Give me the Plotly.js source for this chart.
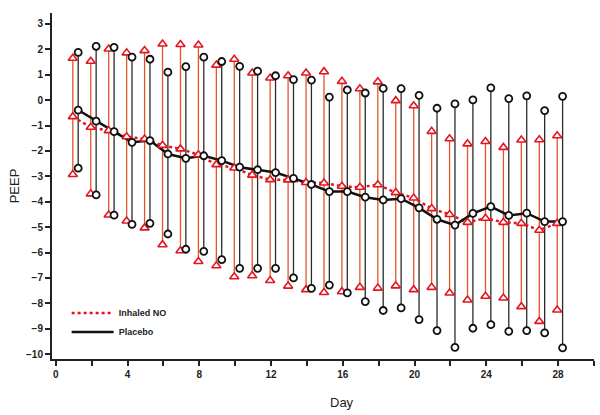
<!DOCTYPE html>
<html>
<head>
<meta charset="utf-8">
<script src="https://cdn.plot.ly/plotly-3.0.1.min.js"></script>
<style>
  html, body { margin: 0; padding: 0; background: #fff; }
  #chart { width: 600px; height: 415px; }
</style>
</head>
<body>
<div id="chart"></div>
<script>
var days = [1, 2, 3, 4, 5, 6, 7, 8, 9, 10, 11, 12, 13, 14, 15, 16, 17, 18, 19, 20, 21, 22, 23, 24, 25, 26, 27, 28];

// Inhaled NO: mean, upper and lower end of the bar
var noMean = [-0.65, -1.07, -1.20, -1.44, -1.53, -1.78, -1.92, -2.15, -2.54, -2.67, -2.95, -3.13, -3.14, -3.24,
              -3.26, -3.39, -3.43, -3.33, -3.64, -3.85, -4.27, -4.50, -4.81, -4.65, -4.81, -4.85, -5.12, -4.85];
var noHigh = [1.65, 1.53, 2.01, 1.86, 1.95, 2.21, 2.19, 2.17, 1.38, 1.61, 1.07, 0.87, 0.96, 1.07,
              1.12, 0.74, 0.45, 0.72, -0.02, -0.22, -1.23, -1.52, -1.72, -1.63, -1.86, -1.57, -1.56, -1.40];
var noLow = [-2.93, -3.69, -4.52, -4.76, -5.03, -5.69, -5.93, -6.35, -6.52, -6.95, -6.91, -7.10, -7.32, -7.46,
             -7.57, -7.54, -7.37, -7.40, -7.31, -7.46, -7.37, -7.59, -7.87, -7.72, -7.79, -8.13, -8.71, -8.26];

// Placebo
var plMean = [-0.39, -0.83, -1.24, -1.66, -1.59, -2.12, -2.29, -2.19, -2.38, -2.64, -2.74, -2.85, -3.08, -3.32,
              -3.60, -3.60, -3.82, -3.93, -3.88, -4.24, -4.69, -4.92, -4.46, -4.19, -4.54, -4.45, -4.78, -4.78];
var plHigh = [1.88, 2.12, 2.08, 1.69, 1.61, 1.10, 1.32, 1.69, 1.52, 1.33, 1.14, 0.96, 0.81, 0.79,
              0.12, 0.40, 0.28, 0.46, 0.45, 0.19, -0.32, -0.15, 0.01, 0.48, 0.06, 0.17, -0.41, 0.15];
var plLow = [-2.68, -3.73, -4.53, -4.89, -4.85, -5.27, -5.87, -5.95, -6.28, -6.62, -6.62, -6.62, -7.00, -7.41,
             -7.28, -7.59, -7.93, -8.28, -8.18, -8.64, -9.07, -9.73, -8.98, -8.84, -9.10, -9.07, -9.16, -9.75];

var xTicks = [0, 2, 4, 6, 8, 10, 12, 14, 16, 18, 20, 22, 24, 26, 28, 30];
var xTickLabels = ['0', '', '4', '', '8', '', '12', '', '16', '', '20', '', '24', '', '28', ''];

var red = '#e3161f';
var redBar = '#e8532a';
var black = '#111111';
var font = 'Liberation Sans, Arial, sans-serif';

// the two groups sit a bit apart on each day
var noX = days.map(function (d) { return d - 0.05; });
var plX = days.map(function (d) { return d + 0.25; });

function barPath(xs, lo, hi) {
  var bx = [], by = [];
  for (var i = 0; i < xs.length; i++) {
    bx.push(xs[i], xs[i], null);
    by.push(lo[i], hi[i], null);
  }
  return { x: bx, y: by };
}

function ends(xs, mean, lo, hi) {
  return { x: xs.concat(xs, xs), y: mean.concat(lo, hi) };
}

var noBars = barPath(noX, noLow, noHigh);
var plBars = barPath(plX, plLow, plHigh);
var noPts = ends(noX, noMean, noLow, noHigh);
var plPts = ends(plX, plMean, plLow, plHigh);

var data = [
  { x: noBars.x, y: noBars.y, type: 'scatter', mode: 'lines', showlegend: false, hoverinfo: 'skip',
    line: { color: redBar, width: 1.3 } },
  { x: plBars.x, y: plBars.y, type: 'scatter', mode: 'lines', showlegend: false, hoverinfo: 'skip',
    line: { color: '#2a2a2a', width: 1.3 } },
  { x: noX, y: noMean, type: 'scatter', mode: 'lines', name: 'Inhaled NO',
    line: { color: red, width: 2.5, dash: 'dot' } },
  { x: plX, y: plMean, type: 'scatter', mode: 'lines', name: 'Placebo',
    line: { color: black, width: 2.5 } },
  { x: noPts.x, y: noPts.y, type: 'scatter', mode: 'markers', showlegend: false,
    marker: { symbol: 'triangle-up', size: 8, color: '#ffffff', line: { color: red, width: 1.6 } } },
  { x: plPts.x, y: plPts.y, type: 'scatter', mode: 'markers', showlegend: false,
    marker: { symbol: 'circle', size: 7, color: '#ffffff', line: { color: black, width: 1.8 } } }
];

var layout = {
  width: 600,
  height: 415,
  paper_bgcolor: '#ffffff',
  plot_bgcolor: '#ffffff',
  margin: { l: 52, r: 6, t: 13, b: 56 },
  font: { family: font, color: '#222' },
  showlegend: true,
  legend: {
    x: 0.027, y: 0.175, xanchor: 'left', yanchor: 'top',
    itemwidth: 42,
    bgcolor: 'rgba(0,0,0,0)',
    font: { family: font, size: 9, weight: 'bold', color: '#222' }
  },
  xaxis: {
    range: [-0.21, 30],
    tickmode: 'array',
    tickvals: xTicks,
    ticktext: xTickLabels,
    showgrid: false,
    zeroline: false,
    showline: true,
    linecolor: '#222',
    linewidth: 2,
    ticks: 'outside',
    ticklen: 5,
    tickwidth: 2,
    tickcolor: '#222',
    tickfont: { family: font, size: 10, weight: 'bold', color: '#222' }
  },
  yaxis: {
    range: [-10.19, 3.43],
    tickmode: 'linear',
    tick0: 0,
    dtick: 1,
    showgrid: false,
    zeroline: false,
    showline: true,
    linecolor: '#222',
    linewidth: 2,
    ticks: 'outside',
    ticklen: 5,
    tickwidth: 2,
    tickcolor: '#222',
    tickfont: { family: font, size: 10, weight: 'bold', color: '#222' },
    title: { text: 'PEEP', font: { family: font, size: 13, color: '#222' }, standoff: 3 }
  },
  annotations: [{
    xref: 'paper', yref: 'paper',
    x: 0.535, y: -0.127,
    xanchor: 'center', yanchor: 'middle',
    text: 'Day', showarrow: false,
    font: { family: font, size: 13, color: '#222' }
  }]
};

Plotly.newPlot('chart', data, layout, { displayModeBar: false, staticPlot: true });
</script>
</body>
</html>
